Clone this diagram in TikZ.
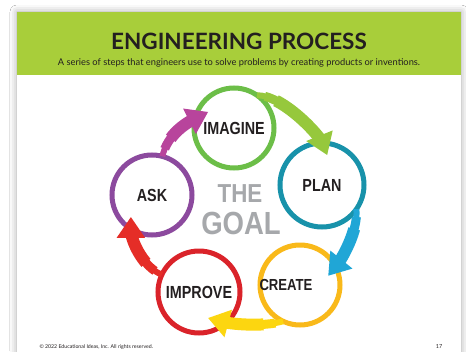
\documentclass[tikz,border=0pt]{standalone}
\usepackage{fontspec}
\setmainfont{Lato}
\newfontfamily\stagefont{Liberation Sans}[FakeStretch=0.82]
\newfontfamily\goalfont{Liberation Sans}[FakeStretch=0.86]
\usepackage{tikz}
\usetikzlibrary{arrows.meta,calc,shadows.blur}

\definecolor{bandgreen}{RGB}{168,206,58}
\definecolor{inkblack}{RGB}{35,31,32}
\definecolor{goalgray}{RGB}{166,168,171}
\definecolor{imaginegreen}{RGB}{108,190,72}
\definecolor{arrowgreen}{RGB}{150,200,60}
\definecolor{planblue}{RGB}{24,146,170}
\definecolor{arrowblue}{RGB}{32,166,214}
\definecolor{createyellow}{RGB}{249,185,26}
\definecolor{arrowyellow}{RGB}{252,214,16}
\definecolor{improvered}{RGB}{218,35,42}
\definecolor{arrowred}{RGB}{229,45,39}
\definecolor{askpurple}{RGB}{140,74,158}
\definecolor{arrowmagenta}{RGB}{184,68,156}

\begin{document}
\begin{tikzpicture}[x=1pt,y=-1pt,
		stage/.style={draw, circle, line width=5pt, minimum size=80pt, inner sep=0pt, outer sep=0pt,
			text=inkblack, font=\stagefont\bfseries\fontsize{17.5}{17.5}\selectfont},
		flow/.style={draw=#1, line width=6pt, -{Triangle[width=27pt,length=21pt]},
			preaction={draw=#1, arrows=-, line width=9pt, dash pattern=on 0pt off 8pt on 400pt, shorten >=14pt},
			preaction={draw=#1, arrows=-, line width=12pt, dash pattern=on 0pt off 20pt on 400pt, shorten >=14pt}},
		goal/.style={text=goalgray, inner sep=0pt, font=\goalfont\bfseries\fontsize{#1}{#1}\selectfont}]
	\clip (0,0) rectangle (466,351);
	\fill[white] (0,0) rectangle (466,351);
	% page and header band
	\fill[white, blur shadow={shadow xshift=0pt, shadow yshift=0pt, shadow blur radius=7pt, shadow opacity=35}] (17,12) rectangle (461,372);
	\fill[bandgreen] (17,12) rectangle (461,75);
	\node[text=inkblack, font=\bfseries\fontsize{22.5}{22.5}\selectfont] (title) at (239,41) {ENGINEERING PROCESS};
	\node[text=inkblack, font=\fontsize{9.3}{10}\selectfont] (subtitle) at (239,63) {A series of steps that engineers use to solve problems by creating products or inventions.};
	
	% the five stages
	\node[stage, draw=imaginegreen] (imagine) at (234,128) {IMAGINE};
	\node[stage, draw=planblue, minimum size=84pt] (plan) at (322,185) {PLAN};
	\node[stage, draw=createyellow, font=\stagefont\bfseries\fontsize{16}{16}\selectfont] (create) at (300,285) {\hspace*{-14pt}CREATE\hspace*{14pt}};
	\node[stage, draw=improvered, minimum size=82pt] (improve) at (199,292) {IMPROVE};
	\node[stage, draw=askpurple] (ask) at (152,195) {ASK};
	
	\node[goal=26] (the) at (240,194) {THE};
	\node[goal=32] (goalword) at (241,223) {GOAL};
	
	% arrows round the cycle
	\path[flow=arrowmagenta] (ask.75) .. controls +(5,-22) and +(-22,11) .. ($(imagine.center)!0.76!(imagine.148)$);
	\path[flow=arrowgreen] (imagine.55) .. controls +(26,0) and +(-8,-20) .. ($(plan.center)!0.72!(plan.80)$);
	\path[flow=arrowblue] (plan.-35) .. controls +(2,22) and +(13,-16) .. ($(create.center)!0.74!(create.18)$);
	\path[flow=arrowyellow] (create.245) .. controls +(-20,6) and +(22,6) .. ($(improve.center)!0.67!(improve.-71)$);
	\path[flow=arrowred] (improve.155) .. controls +(-20,-8) and +(0,22) .. ($(ask.center)!0.76!(ask.226)$);
	
	% footer
	\node[anchor=west, text=inkblack, font=\fontsize{5.2}{6}\selectfont] (rights) at (36,347) {© 2022 Educational Ideas, Inc. All rights reserved.};
	\node[text=inkblack, font=\fontsize{5.5}{6}\selectfont] (pagenum) at (439,347) {17};
\end{tikzpicture}
\end{document}
